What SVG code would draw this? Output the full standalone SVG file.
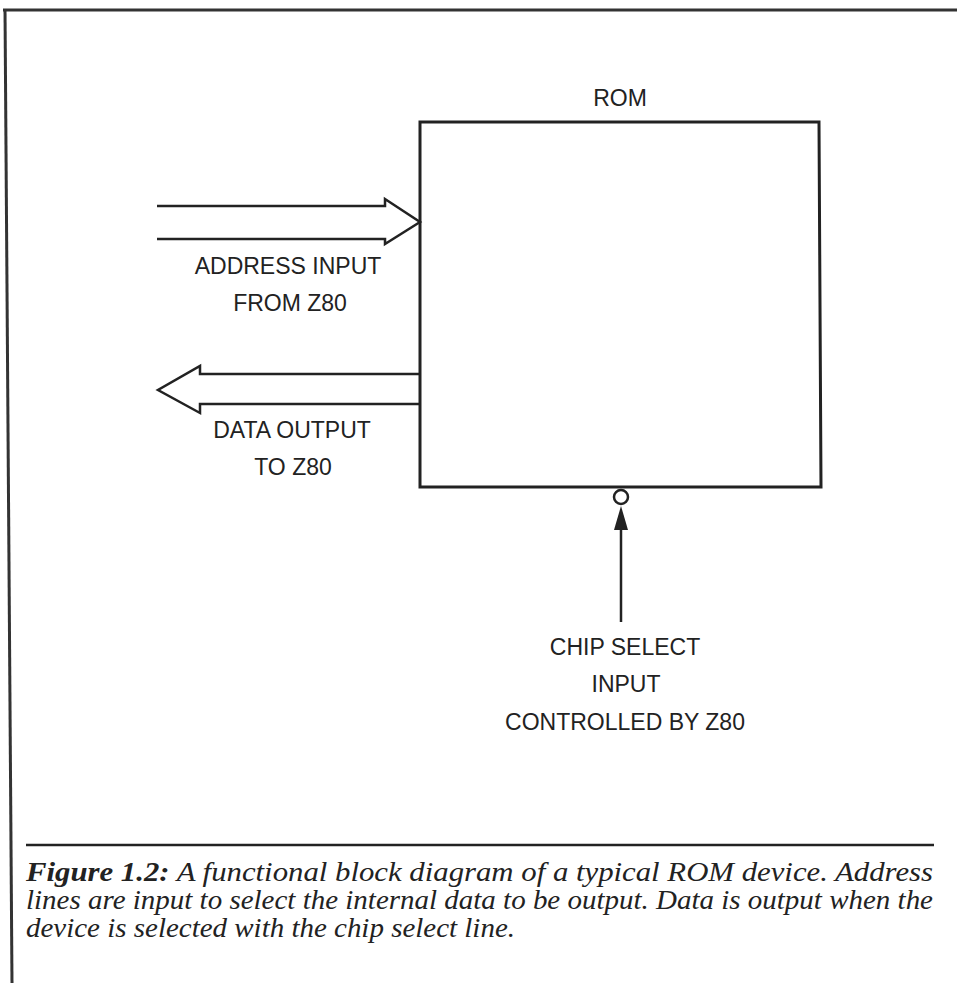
<svg xmlns="http://www.w3.org/2000/svg" width="957" height="983" viewBox="0 0 957 983">
<style>
.ln{fill:none;stroke:#222;stroke-width:2.5;stroke-linejoin:miter}
.lbl{font-family:"Liberation Sans",Arial,sans-serif;font-size:23px;fill:#222;text-anchor:middle}
.cap{font-family:"Liberation Serif","Times New Roman",serif;font-style:italic;font-size:27px;fill:#222}
</style>
<rect width="957" height="983" fill="#fff"/>
<g id="frame">
<line x1="3" y1="10" x2="957" y2="10" stroke="#333" stroke-width="3"/>
<line x1="5" y1="9" x2="12" y2="983" stroke="#333" stroke-width="3"/>
</g>
<g id="rom">
<path d="M420,122 L819,122 L821,487 L420,487 Z" fill="none" stroke="#222" stroke-width="3"/>
<text class="lbl" x="620" y="106">ROM</text>
<circle cx="621" cy="497" r="7" fill="#fff" stroke="#222" stroke-width="2.5"/>
</g>
<g id="connectors">
<path class="ln" d="M157,206 L385,206 L385,199 L420,222 L385,244 L385,239 L157,239"/>
<path class="ln" d="M420,374 L200,374 L200,366 L158,390 L200,413 L200,404 L420,404"/>
<line x1="621" y1="622" x2="621" y2="528" stroke="#222" stroke-width="2.5"/>
<path d="M621,506 L614,530 L628,530 Z" fill="#222"/>
</g>
<g id="address-label">
<text class="lbl" x="288" y="274">ADDRESS INPUT</text>
<text class="lbl" x="290" y="311">FROM Z80</text>
</g>
<g id="data-label">
<text class="lbl" x="292" y="438">DATA OUTPUT</text>
<text class="lbl" x="293" y="475">TO Z80</text>
</g>
<g id="cs-label">
<text class="lbl" x="625" y="655">CHIP SELECT</text>
<text class="lbl" x="626" y="692">INPUT</text>
<text class="lbl" x="625" y="730">CONTROLLED BY Z80</text>
</g>
<g id="caption">
<line x1="26" y1="845" x2="934" y2="845" stroke="#222" stroke-width="2.5"/>
<text class="cap" x="26" y="881" textLength="907" lengthAdjust="spacingAndGlyphs"><tspan font-weight="bold">Figure 1.2:</tspan> A functional block diagram of a typical ROM device. Address</text>
<text class="cap" x="26" y="909" textLength="907" lengthAdjust="spacingAndGlyphs">lines are input to select the internal data to be output. Data is output when the</text>
<text class="cap" x="26" y="937" textLength="489" lengthAdjust="spacingAndGlyphs">device is selected with the chip select line.</text>
</g>
</svg>
